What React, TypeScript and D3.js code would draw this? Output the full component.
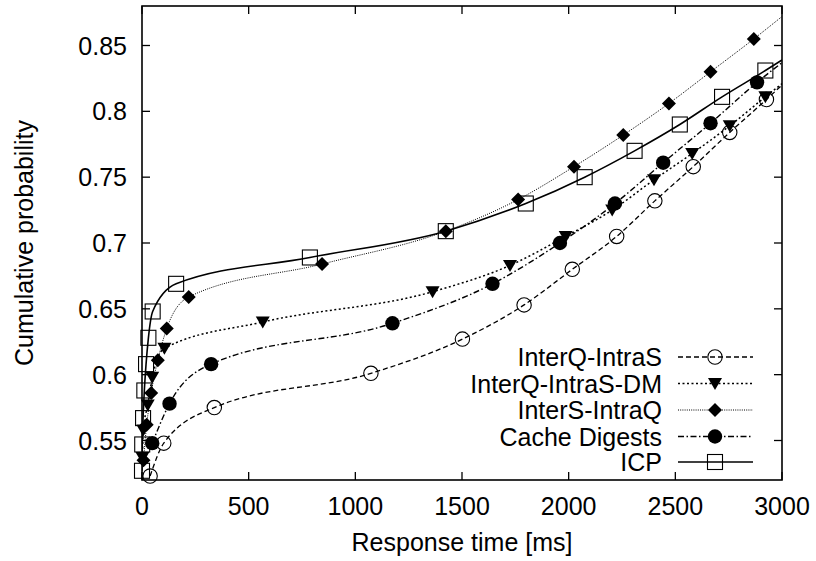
import React from 'react';
import * as d3 from 'd3';

// values (x in ms, y cumulative probability)
const interQIntraS: [number, number][] = [
  [38, 0.523], [102, 0.548], [339, 0.575], [1073, 0.601], [1502, 0.627],
  [1791, 0.653], [2017, 0.68], [2225, 0.705], [2404, 0.732], [2584, 0.758],
  [2755, 0.784], [2927, 0.809],
];
const interQIntraSDM: [number, number][] = [
  [2, 0.537], [6, 0.558], [27, 0.577], [48, 0.598], [105, 0.62], [566, 0.64],
  [1362, 0.663], [1725, 0.683], [1986, 0.705], [2204, 0.725], [2400, 0.748],
  [2579, 0.768], [2755, 0.789], [2922, 0.811],
];
const interSIntraQ: [number, number][] = [
  [7, 0.535], [22, 0.562], [43, 0.586], [74, 0.611], [116, 0.635], [219, 0.659],
  [844, 0.684], [1424, 0.709], [1763, 0.733], [2025, 0.758], [2256, 0.782],
  [2470, 0.806], [2665, 0.83], [2868, 0.855],
];
const cacheDigests: [number, number][] = [
  [48, 0.548], [129, 0.578], [324, 0.608], [1174, 0.639], [1643, 0.669],
  [1959, 0.7], [2217, 0.73], [2443, 0.761], [2665, 0.791], [2883, 0.822],
];
const icp: [number, number][] = [
  [0, 0.527], [1, 0.547], [5, 0.567], [11, 0.588], [19, 0.608], [30, 0.628],
  [50, 0.648], [160, 0.669], [787, 0.689], [1424, 0.709], [1799, 0.73],
  [2075, 0.75], [2309, 0.77], [2521, 0.79], [2719, 0.811], [2922, 0.831],
];
// where each curve leaves the plot at x = 3000
const endAt3000 = [0.82, 0.821, 0.872, 0.837, 0.839];

const seriesNames = ['InterQ-IntraS', 'InterQ-IntraS-DM', 'InterS-IntraQ', 'Cache Digests', 'ICP'];
const xTicks = [0, 500, 1000, 1500, 2000, 2500, 3000];
const yTicks = [0.55, 0.6, 0.65, 0.7, 0.75, 0.8, 0.85];
const yTickLabels = ['0.55', '0.6', '0.65', '0.7', '0.75', '0.8', '0.85'];

const W = 816;
const H = 561;
const left = 142, right = 782, top = 6, bottom = 480;
const font = '"Liberation Sans", Arial, Helvetica, sans-serif';

const Marker = ({ kind, x, y }: { kind: string; x: number; y: number }) => {
  if (kind === 'circle') return <circle cx={x} cy={y} r={7.2} fill="none" stroke="#000" strokeWidth={1.1} />;
  if (kind === 'dot') return <circle cx={x} cy={y} r={7.2} fill="#000" />;
  if (kind === 'tri')
    return <path d={`M${x - 7},${y - 5.5}L${x + 7},${y - 5.5}L${x},${y + 6.5}Z`} fill="#000" />;
  if (kind === 'diamond')
    return <path d={`M${x},${y - 7}L${x + 7},${y}L${x},${y + 7}L${x - 7},${y}Z`} fill="#000" />;
  return <rect x={x - 7.5} y={y - 7.5} width={15} height={15} fill="none" stroke="#000" strokeWidth={1.1} />;
};

export default function App() {
  const x = d3.scaleLinear().domain([0, 3000]).range([left, right]);
  const y = d3.scaleLinear().domain([0.52, 0.88]).range([bottom, top]);

  const data = [interQIntraS, interQIntraSDM, interSIntraQ, cacheDigests, icp];
  const styles = [
    { marker: 'circle', dash: '5,3', width: 1.3 },
    { marker: 'tri', dash: '2,2.5', width: 1.5 },
    { marker: 'diamond', dash: '1,1.2', width: 1 },
    { marker: 'dot', dash: '6,2.5,1.5,2.5', width: 1.4 },
    { marker: 'square', dash: undefined, width: 1.6 },
  ];

  const line = d3
    .line<[number, number]>()
    .x(d => x(d[0]))
    .y(d => y(d[1]))
    .curve(d3.curveMonotoneX);

  const legendY = [357, 383.5, 410, 436.5, 462];

  return (
    <svg width={W} height={H} style={{ position: 'absolute', left: 0, top: 0, background: '#fff' }} fontFamily={font}>
      <defs>
        <clipPath id="plot">
          <rect x={left} y={top} width={right - left} height={bottom - top} />
        </clipPath>
      </defs>

      {/* axes ticks, mirrored inside the frame */}
      {xTicks.map(t => (
        <g key={'x' + t}>
          <line x1={x(t)} x2={x(t)} y1={bottom} y2={bottom - 8} stroke="#000" strokeWidth={1.3} />
          <line x1={x(t)} x2={x(t)} y1={top} y2={top + 8} stroke="#000" strokeWidth={1.3} />
          <text x={x(t)} y={bottom + 35} fontSize={25} textAnchor="middle">{t}</text>
        </g>
      ))}
      {yTicks.map((t, i) => (
        <g key={'y' + t}>
          <line x1={left} x2={left + 8} y1={y(t)} y2={y(t)} stroke="#000" strokeWidth={1.3} />
          <line x1={right} x2={right - 8} y1={y(t)} y2={y(t)} stroke="#000" strokeWidth={1.3} />
          <text x={127} y={y(t)} dy="0.36em" fontSize={25} textAnchor="end">{yTickLabels[i]}</text>
        </g>
      ))}

      {data.map((pts, i) => (
        <g key={seriesNames[i]}>
          <path
            d={line([...pts, [3000, endAt3000[i]]]) || ''}
            fill="none"
            stroke="#000"
            strokeWidth={styles[i].width}
            strokeDasharray={styles[i].dash}
            clipPath="url(#plot)"
          />
          {pts.map((p, j) => (
            <Marker key={j} kind={styles[i].marker} x={x(p[0])} y={y(p[1])} />
          ))}
        </g>
      ))}

      <rect x={left} y={top} width={right - left} height={bottom - top} fill="none" stroke="#000" strokeWidth={1.6} />

      {/* legend */}
      {seriesNames.map((name, i) => (
        <g key={'lg' + name}>
          <text x={662} y={legendY[i]} dy="0.36em" fontSize={25} textAnchor="end">{name}</text>
          <line
            x1={678}
            x2={753}
            y1={legendY[i]}
            y2={legendY[i]}
            stroke="#000"
            strokeWidth={styles[i].width}
            strokeDasharray={styles[i].dash}
          />
          <Marker kind={styles[i].marker} x={715} y={legendY[i]} />
        </g>
      ))}

      <text x={(left + right) / 2} y={551} fontSize={25} textAnchor="middle">Response time [ms]</text>
      <text transform={`translate(33,${(top + bottom) / 2}) rotate(-90)`} fontSize={25} textAnchor="middle">
        Cumulative probability
      </text>
    </svg>
  );
}
